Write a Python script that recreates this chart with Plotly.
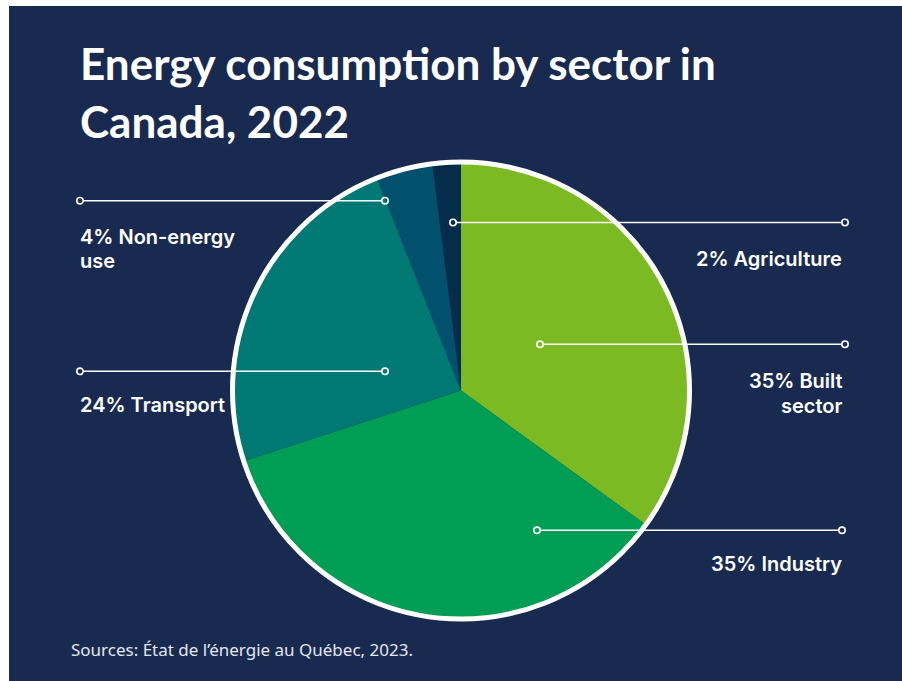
import plotly.graph_objects as go

# Sector shares of energy consumption (percent), clockwise from 12 o'clock
sectors = ["Built sector", "Industry", "Transport", "Non-energy use", "Agriculture"]
shares = [35, 35, 24, 4, 2]
# number of words kept on the first line of each label
first_line_words = [2, 2, 2, 2, 2]

title_lines = ["Energy consumption by sector in", "Canada, 2022"]
source_note = "Sources: État de l’énergie au Québec, 2023."

slice_colors = ["#7cba24", "#009e55", "#007873", "#00506e", "#062c4c"]
NAVY = "#192a51"

W, H = 902, 681


def px(x):
    return x / W


def py(y):
    return 1 - y / H


# pie geometry in pixels
CX, CY, R = 461, 390.5, 229

fig = go.Figure()
fig.add_trace(go.Pie(
    labels=sectors,
    values=shares,
    sort=False,
    direction="clockwise",
    rotation=0,
    marker=dict(colors=slice_colors, line=dict(width=0)),
    textinfo="none",
    hoverinfo="label+percent",
    showlegend=False,
    domain=dict(x=[px(CX - R), px(CX + R)], y=[py(CY + R), py(CY - R)]),
))

shapes = [
    # navy card
    dict(type="rect", xref="paper", yref="paper", x0=px(9), x1=1.0, y0=0.0, y1=py(6),
         fillcolor=NAVY, line=dict(width=0), layer="below"),
    # white rim around the pie
    dict(type="circle", xref="paper", yref="paper",
         x0=px(CX - 228.5), x1=px(CX + 228.5), y0=py(CY + 228.5), y1=py(CY - 228.5),
         line=dict(color="white", width=5), fillcolor="rgba(0,0,0,0)", layer="above"),
]

# leader lines: (y, inner x, outer x) in pixels, one per sector
leaders = [
    (344.3, 540, 845),
    (530.3, 537, 842),
    (371.3, 385, 80),
    (200.7, 385, 80),
    (222.5, 453, 845),
]
DOT = 3.2
for (ly, xin, xout) in leaders:
    lo, hi = sorted([xin, xout])
    shapes.append(dict(type="line", xref="paper", yref="paper",
                       x0=px(lo + DOT), x1=px(hi - DOT), y0=py(ly), y1=py(ly),
                       line=dict(color="white", width=1.6), layer="above"))
    for xc in (xin, xout):
        shapes.append(dict(type="circle", xref="paper", yref="paper",
                           x0=px(xc - DOT), x1=px(xc + DOT), y0=py(ly + DOT), y1=py(ly - DOT),
                           line=dict(color="white", width=1.6), fillcolor="rgba(0,0,0,0)",
                           layer="above"))

# label anchors: (x, first baseline, side)
label_pos = [
    (845, 388.5, "right"),
    (844, 571.5, "right"),
    (78, 412.5, "left"),
    (78, 244, "left"),
    (844, 266.5, "right"),
]
LABEL_FS = 20
LINE_GAP = 24.5

annotations = []
for name, share, nw, (lx, base, side) in zip(sectors, shares, first_line_words, label_pos):
    words = f"{share}% {name}".split(" ")
    lines = [" ".join(words[:nw])]
    if len(words) > nw:
        lines.append(" ".join(words[nw:]))
    for i, t in enumerate(lines):
        b = base + i * LINE_GAP
        annotations.append(dict(
            text=t, xref="paper", yref="paper", x=px(lx), y=py(b - 0.36 * LABEL_FS),
            xanchor=side, yanchor="middle", showarrow=False, align=side,
            font=dict(family="Inter", size=LABEL_FS, color="white", weight=600),
        ))

TITLE_FS = 44
for i, t in enumerate(title_lines):
    b = 79 + i * 58
    annotations.append(dict(
        text=t, xref="paper", yref="paper", x=px(78), y=py(b - 0.36 * TITLE_FS),
        xanchor="left", yanchor="middle", showarrow=False,
        font=dict(family="Lato", size=TITLE_FS, color="white", weight=700),
    ))

annotations.append(dict(
    text=source_note, xref="paper", yref="paper", x=px(69), y=py(656 - 0.36 * 17),
    xanchor="left", yanchor="middle", showarrow=False,
    font=dict(family="Noto Sans", size=17, color="#e3e7ef"),
))

fig.update_layout(
    width=W, height=H,
    margin=dict(l=0, r=0, t=0, b=0),
    paper_bgcolor="white",
    plot_bgcolor="white",
    shapes=shapes,
    annotations=annotations,
)

fig.write_html("out.html", config={"displayModeBar": False})
